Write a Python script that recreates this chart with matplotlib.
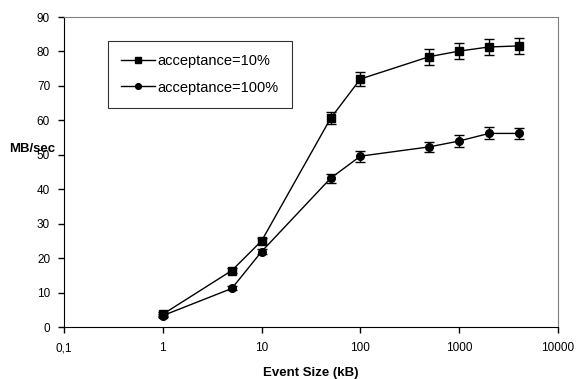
import numpy as np
import matplotlib
matplotlib.use("Agg")
import matplotlib.pyplot as plt
from matplotlib.ticker import FixedLocator, FixedFormatter, NullLocator

plt.rcParams['font.family'] = ['Liberation Sans', 'DejaVu Sans']

# event size in kB
sizes = [1, 5, 10, 50, 100, 500, 1000, 2000, 4000]

acc10 = [3.7, 16.4, 25.0, 60.6, 72.0, 78.5, 80.1, 81.3, 81.6]
acc10_err = [0.6, 0.7, 0.8, 1.7, 2.0, 2.3, 2.3, 2.4, 2.4]

acc100 = [3.3, 11.2, 21.9, 43.2, 49.6, 52.3, 54.0, 56.2, 56.2]
acc100_err = [0.5, 0.6, 0.8, 1.3, 1.6, 1.5, 1.8, 1.75, 1.7]

xticks = [0.1, 1, 10, 100, 1000, 10000]
xticklabels = ["0,1", "1", "10", "100", "1000", "10000"]

fig = plt.figure(figsize=(5.77, 3.79), dpi=100)
ax = fig.add_axes([64 / 577, 1 - 327 / 379, (558 - 64) / 577, (327 - 17) / 379])

ax.errorbar(sizes, acc10, yerr=acc10_err, fmt="none", ecolor="black",
            capsize=3.5, elinewidth=1, capthick=1)
ax.errorbar(sizes, acc100, yerr=acc100_err, fmt="none", ecolor="black",
            capsize=3.5, elinewidth=1, capthick=1)
ax.plot(sizes, acc10, color="black", marker="s", ms=5.5, lw=1,
        label="acceptance=10%")
ax.plot(sizes, acc100, color="black", marker="o", ms=5.5, lw=1,
        label="acceptance=100%")

ax.set_xscale("log")
ax.set_xlim(0.1, 10000)
ax.set_ylim(0, 90)
ax.xaxis.set_major_locator(FixedLocator(xticks))
ax.xaxis.set_major_formatter(FixedFormatter(xticklabels))
ax.xaxis.set_minor_locator(NullLocator())
ax.set_yticks(range(0, 91, 10))
ax.tick_params(labelsize=8.5, length=4, width=1, color="black")
ax.tick_params(axis="x", pad=7)
ax.tick_params(axis="y", pad=6)

for s in ["top", "right"]:
    ax.spines[s].set_color("#808080")
for s in ["left", "bottom"]:
    ax.spines[s].set_color("black")

ax.set_xlabel("Event Size (kB)", fontsize=9.5, fontweight="bold", labelpad=9)
ax.set_ylabel("MB/sec", fontsize=9.5, fontweight="bold", rotation=0,
              va="center", ha="center")
ax.yaxis.set_label_coords(-0.065, 0.575)

leg = fig.legend(loc="upper left", bbox_to_anchor=(108 / 577, 1 - 41 / 379),
                 fontsize=10.5, frameon=True, fancybox=False, edgecolor="black",
                 handlelength=2.3, borderpad=0.9, labelspacing=0.85,
                 handletextpad=0.2, borderaxespad=0, markerscale=0.75)
leg.get_frame().set_linewidth(0.8)

fig.savefig("out.png", dpi=100)
